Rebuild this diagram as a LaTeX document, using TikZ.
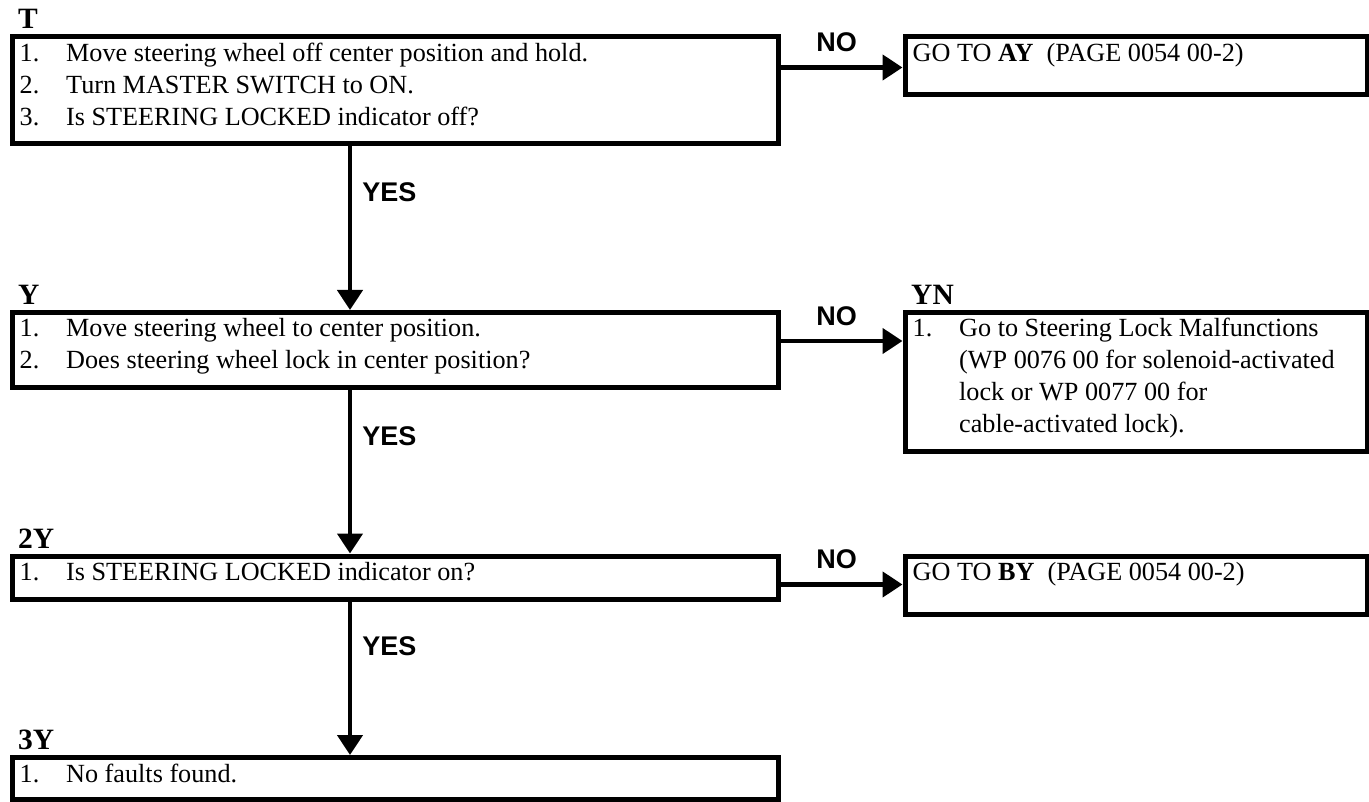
\documentclass[tikz,border=0pt]{standalone}
\usepackage{fontspec}
\setmainfont{Liberation Serif}
\newfontfamily\lsans{Liberation Sans}
\usetikzlibrary{arrows.meta,calc}
\tikzset{
  box/.style={draw, line width=5pt, inner sep=0pt, anchor=north west, rectangle},
  body/.style={inner sep=0pt, anchor=base west, font=\fontsize{26.2}{32}\selectfont},
  tag/.style={inner sep=0pt, anchor=base west, font=\fontsize{29.5}{32}\selectfont\bfseries},
  arr/.style={line width=4.5pt, -{Triangle[length=20pt,width=25pt]}},
  yn/.style={font=\lsans\fontsize{27}{30}\selectfont\bfseries, inner sep=0pt},
}
\newcommand{\steps}[1]{\begin{tabular}[t]{@{}p{46.5pt}@{}l@{}}#1\end{tabular}}
\begin{document}
\begin{tikzpicture}[x=1pt,y=-1pt]
\useasboundingbox (0,0) rectangle (1369,802);
% boxes
\node[box, minimum width=766pt, minimum height=107pt] (T) at (9.5,34.5) {};
\node[box, minimum width=462pt, minimum height=58pt] (AY) at (902.5,34.5) {};
\node[box, minimum width=766pt, minimum height=75pt] (Y) at (9.5,310) {};
\node[box, minimum width=462pt, minimum height=139pt] (YN) at (902.5,310) {};
\node[box, minimum width=766pt, minimum height=43pt] (Y2) at (9.5,553.5) {};
\node[box, minimum width=462pt, minimum height=58pt] (BY) at (902.5,553.5) {};
\node[box, minimum width=766pt, minimum height=42pt] (Y3) at (9.5,755) {};
% tags
\node[tag] (tT) at (18,29) {T};
\node[tag] (tY) at (18,304.5) {Y};
\node[tag] (tYN) at (911,304.5) {YN};
\node[tag] (tY2) at (18,548) {2Y};
\node[tag] (tY3) at (18,749.5) {3Y};
% texts
\node[body] (xT) at (19.5,61.5) {\steps{1.&Move steering wheel off center position and hold.\\
2.&Turn MASTER SWITCH to ON.\\
3.&Is STEERING LOCKED indicator off?}};
\node[body] (xAY) at (912.5,61.5) {GO TO \textbf{AY}\ \ (PAGE 0054 00-2)};
\node[body] (xY) at (19.5,337) {\steps{1.&Move steering wheel to center position.\\
2.&Does steering wheel lock in center position?}};
\node[body] (xYN) at (912.5,337) {\steps{1.&Go to Steering Lock Malfunctions\\
&(WP 0076 00 for solenoid-activated\\
&lock or WP 0077 00 for\\
&cable-activated lock).}};
\node[body] (xY2) at (19.5,580.5) {\steps{1.&Is STEERING LOCKED indicator on?}};
\node[body] (xBY) at (912.5,580.5) {GO TO \textbf{BY}\ \ (PAGE 0054 00-2)};
\node[body] (xY3) at (19.5,782) {\steps{1.&No faults found.}};
% NO connectors
\draw[arr] ([yshift=-33pt]T.north east) -- ([yshift=-33pt]AY.north west)
  node[yn, midway, above=13pt, xshift=-5pt] {NO};
\draw[arr] ([yshift=-31pt]Y.north east) -- ([yshift=-31pt]YN.north west)
  node[yn, midway, above=13pt, xshift=-5pt] {NO};
\draw[arr] ([yshift=-31pt]Y2.north east) -- ([yshift=-31pt]BY.north west)
  node[yn, midway, above=13pt, xshift=-5pt] {NO};
% YES connectors
\draw[arr] ([xshift=340.5pt]T.south west) -- ([xshift=340.5pt]Y.north west)
  node[yn, pos=0.28, anchor=west, xshift=10pt] {YES};
\draw[arr] ([xshift=340.5pt]Y.south west) -- ([xshift=340.5pt]Y2.north west)
  node[yn, pos=0.28, anchor=west, xshift=10pt] {YES};
\draw[arr] ([xshift=340.5pt]Y2.south west) -- ([xshift=340.5pt]Y3.north west)
  node[yn, pos=0.29, anchor=west, xshift=10pt] {YES};
\end{tikzpicture}
\end{document}
